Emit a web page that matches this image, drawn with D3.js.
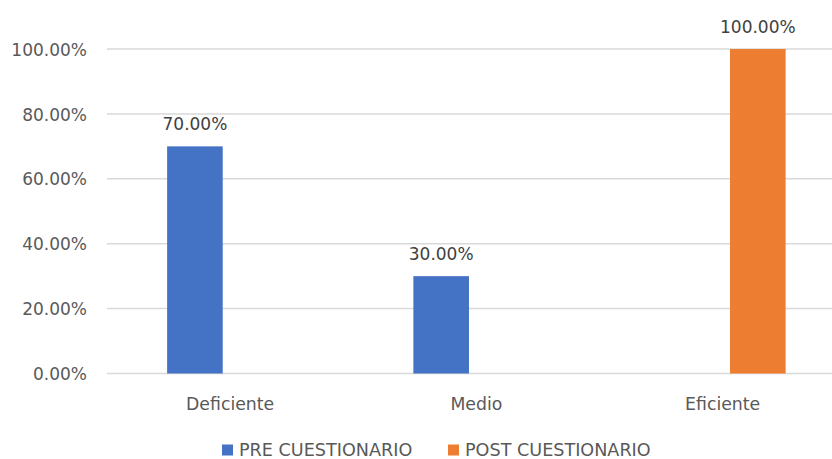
<!DOCTYPE html>
<html>
<head>
<meta charset="utf-8">
<script src="https://cdn.jsdelivr.net/npm/d3@7"></script>
<style>
  html, body { margin: 0; padding: 0; background: #fff; }
  svg { display: block; }
  text { font-family: "DejaVu Sans", sans-serif; }
</style>
</head>
<body>
<div id="chart"></div>
<script>
// Categories and series
const categories = ["Deficiente", "Medio", "Eficiente"];
const seriesNames = ["PRE CUESTIONARIO", "POST CUESTIONARIO"];
const preValues = [0.70, 0.30, null];
const postValues = [null, null, 1.00];
const yTicks = [0, 0.2, 0.4, 0.6, 0.8, 1.0];
const seriesColors = ["#4472C4", "#ED7D31"];

const width = 832, height = 459;
const seriesValues = [preValues, postValues];

const svg = d3.select("#chart").append("svg")
  .attr("width", width).attr("height", height);

const plotLeft = 107, plotRight = 845.75;
const y = d3.scaleLinear().domain([0, 1]).range([373.5, 49]);

const x0 = d3.scaleBand().domain(categories).range([plotLeft, plotRight]).padding(0);
const half = x0.bandwidth() / 2;
const x1 = d3.scaleBand().domain(seriesNames)
  .range([half - 63, half + 63]).paddingInner(0.21).paddingOuter(0);

const fmt = d3.format(".2%");

// Horizontal gridlines
svg.append("g").selectAll("line").data(yTicks).join("line")
  .attr("x1", plotLeft).attr("x2", width)
  .attr("y1", d => y(d)).attr("y2", d => y(d))
  .attr("stroke", "#d9d9d9").attr("stroke-width", 1.5);

// Y axis labels
const yAxis = d3.axisLeft(y).tickValues(yTicks).tickFormat(fmt).tickSize(0).tickPadding(0);
const gy = svg.append("g").attr("transform", `translate(87,0)`).call(yAxis);
gy.select(".domain").remove();
gy.selectAll("text")
  .attr("font-family", "DejaVu Sans, sans-serif")
  .attr("font-size", 17).attr("fill", "#595959").attr("dy", "0.36em");

// X axis labels
const xAxis = d3.axisBottom(x0).tickSize(0).tickPadding(0);
const gx = svg.append("g").attr("transform", `translate(0,${y(0)})`).call(xAxis);
gx.select(".domain").remove();
gx.selectAll("text")
  .attr("font-family", "DejaVu Sans, sans-serif")
  .attr("font-size", 17.3).attr("fill", "#595959")
  .attr("dy", 0).attr("y", 36);

// Bars
const rows = [];
categories.forEach((c, i) => {
  seriesNames.forEach((s, j) => {
    const v = seriesValues[j][i];
    if (v != null) rows.push({ cat: c, series: s, value: v, color: seriesColors[j] });
  });
});

const bars = svg.append("g");
bars.selectAll("rect").data(rows).join("rect")
  .attr("x", d => x0(d.cat) + x1(d.series))
  .attr("width", x1.bandwidth())
  .attr("y", d => y(d.value))
  .attr("height", d => y(0) - y(d.value))
  .attr("fill", d => d.color);

// Value labels
bars.selectAll("text").data(rows).join("text")
  .attr("x", d => x0(d.cat) + x1(d.series) + x1.bandwidth() / 2)
  .attr("y", d => y(d.value) - 16.5)
  .attr("text-anchor", "middle")
  .attr("font-size", 17).attr("fill", "#404040")
  .text(d => fmt(d.value));

// Legend
const legendItems = [
  { name: seriesNames[0], color: seriesColors[0], x: 222 },
  { name: seriesNames[1], color: seriesColors[1], x: 448 }
];
const lg = svg.append("g").selectAll("g").data(legendItems).join("g")
  .attr("transform", d => `translate(${d.x},0)`);
lg.append("rect").attr("x", 0).attr("y", 444.5).attr("width", 11).attr("height", 11)
  .attr("fill", d => d.color);
lg.append("text").attr("x", 17).attr("y", 456)
  .attr("font-size", 17.6).attr("fill", "#595959")
  .text(d => d.name);
</script>
</body>
</html>
